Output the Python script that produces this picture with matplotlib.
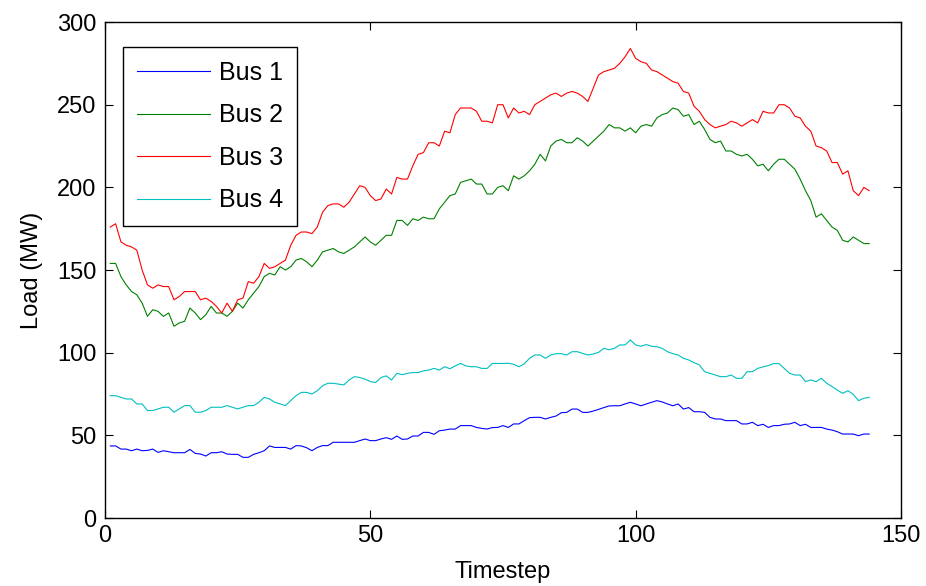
import matplotlib
matplotlib.use('Agg')
from matplotlib import pyplot as plt

# load per timestep
bus1 = [43.6, 43.6, 41.7, 41.7, 40.7, 41.7, 40.7, 40.9, 41.7, 39.7,
        40.7, 40.1, 39.5, 39.5, 39.5, 41.5, 39.1, 38.7, 37.5, 39.5,
        39.5, 40.1, 38.7, 38.5, 38.5, 36.7, 36.7, 38.5, 39.5, 40.7,
        43.6, 42.7, 42.7, 42.7, 41.7, 43.8, 43.6, 42.5, 40.7, 42.7,
        43.8, 43.8, 45.8, 45.8, 45.8, 45.8, 45.8, 46.8, 47.8, 46.8,
        46.8, 47.8, 48.6, 47.6, 49.6, 47.6, 47.8, 49.6, 49.6, 51.8,
        51.8, 50.6, 52.8, 53.2, 53.8, 53.8, 55.9, 55.9, 55.9, 54.8,
        54.2, 53.8, 54.7, 54.8, 55.9, 54.8, 56.9, 56.9, 58.9, 60.7,
        60.9, 60.9, 59.9, 60.9, 61.7, 63.7, 63.9, 65.9, 65.9, 63.9,
        63.9, 64.7, 65.7, 66.8, 67.8, 67.9, 67.9, 69.0, 70.0, 69.0,
        67.9, 69.0, 70.0, 71.0, 70.2, 69.0, 67.9, 69.0, 65.9, 66.8,
        64.3, 64.3, 63.9, 60.9, 59.9, 59.9, 58.9, 58.9, 58.9, 56.9,
        56.9, 57.9, 55.9, 56.7, 54.8, 55.9, 55.9, 56.7, 56.9, 57.9,
        55.9, 56.7, 54.8, 54.8, 54.8, 53.8, 53.2, 52.2, 50.8, 50.8,
        50.8, 49.8, 50.8, 50.8]

bus2 = [154, 154, 146, 141, 137, 135, 130, 122, 126, 125,
        122, 124, 116, 118, 119, 127, 124, 120, 123, 128,
        124, 124, 122, 125, 130, 127, 132, 136, 140, 146,
        148, 147, 152, 150, 152, 156, 157, 155, 152, 156,
        161, 162, 163, 161, 160, 162, 164, 167, 170, 167,
        165, 168, 171, 171, 180, 180, 177, 181, 180, 182,
        181, 181, 187, 191, 195, 196, 203, 204, 205, 202,
        202, 196, 196, 200, 201, 198, 207, 205, 207, 210,
        214, 220, 216, 225, 228, 229, 227, 227, 230, 228,
        225, 228, 231, 234, 238, 236, 236, 234, 236, 233,
        237, 238, 237, 242, 244, 245, 248, 247, 243, 244,
        238, 240, 235, 229, 227, 228, 222, 222, 220, 219,
        220, 217, 213, 214, 210, 214, 217, 217, 214, 211,
        205, 198, 192, 182, 184, 180, 176, 174, 168, 167,
        170, 168, 166, 166]

bus3 = [176, 178, 167, 165, 164, 162, 150, 141, 139, 141,
        140, 140, 132, 134, 137, 137, 137, 132, 133, 131,
        128, 124, 130, 125, 132, 133, 143, 142, 146, 154,
        151, 152, 154, 156, 165, 171, 173, 173, 172, 176,
        185, 189, 190, 190, 188, 191, 196, 201, 200, 195,
        192, 193, 199, 196, 206, 205, 205, 213, 220, 221,
        227, 227, 225, 234, 233, 244, 248, 248, 248, 246,
        240, 240, 239, 250, 250, 242, 248, 245, 246, 244,
        250, 252, 254, 256, 257, 255, 257, 258, 257, 255,
        252, 260, 268, 270, 271, 272, 275, 279, 284, 278,
        276, 275, 271, 270, 268, 266, 264, 263, 258, 257,
        249, 246, 241, 238, 236, 237, 238, 240, 239, 237,
        239, 241, 239, 246, 245, 245, 250, 250, 248, 243,
        242, 237, 234, 225, 224, 222, 215, 215, 208, 210,
        198, 195, 200, 198]

bus4 = [74, 74, 73, 72, 72, 69, 69, 65, 65, 66,
        67, 67, 64, 66, 68, 68, 64, 64, 65, 67,
        67, 67, 68, 67, 66, 67, 68, 68, 70, 73,
        72, 70, 69, 68, 71, 74, 76, 76, 75, 77,
        80, 81.5, 81.5, 81, 80.5, 83.5, 85.5, 85, 84, 82.5,
        82, 85, 86, 83.5, 87.5, 86.7, 87.5, 88, 88, 89,
        89.5, 90.5, 89.5, 91.5, 90.3, 92, 93.5, 92, 91.5, 91.5,
        90.5, 90.5, 93.5, 93.5, 93.5, 93.6, 93, 91.5, 93.2, 96.6,
        98.6, 98.6, 96.6, 98.6, 99.4, 99.4, 98.6, 100.6, 100.6, 99.6,
        98.6, 99.2, 100.2, 102.6, 101.8, 102.6, 104.7, 104.7, 107.7, 104.7,
        103.9, 104.9, 103.9, 103.6, 102.6, 100.6, 99.4, 98.6, 96.6, 95.6,
        94, 92.6, 88.5, 87.5, 86.5, 85.5, 85.5, 86.5, 84.5, 84.5,
        88.5, 88.5, 90.5, 91.4, 92.2, 93.4, 93.4, 90.5, 87.5, 86.5,
        86.5, 82.5, 83.5, 82.5, 84.5, 81.5, 79.5, 77.4, 75.4, 77,
        74.8, 71, 72.4, 73]

timestep = list(range(1, len(bus1) + 1))
labels = ['Bus 1', 'Bus 2', 'Bus 3', 'Bus 4']
colors = ['#0000ff', '#008000', '#ff0000', '#00bfbf']

matplotlib.rcParams['font.family'] = ['Liberation Sans', 'DejaVu Sans']
matplotlib.rcParams['font.size'] = 17

fig = plt.figure(figsize=(9.26, 5.86), dpi=100)
ax = fig.add_axes([0.1134, 0.116, 0.8596, 0.8464])

for y, lab, c in zip([bus1, bus2, bus3, bus4], labels, colors):
    ax.plot(timestep, y, color=c, linewidth=0.8, label=lab)

ax.set_xlim(0, 150)
ax.set_ylim(0, 300)
ax.set_xticks([0, 50, 100, 150])
ax.set_yticks([0, 50, 100, 150, 200, 250, 300])
ax.tick_params(direction='in', top=True, right=True, length=6, width=0.8)
ax.tick_params(axis='y', pad=6)
ax.tick_params(axis='x', pad=5)
for s in ax.spines.values():
    s.set_linewidth(1.0)

ax.set_xlabel('Timestep', labelpad=10)
ax.set_ylabel('Load (MW)', labelpad=10)

leg = ax.legend(loc='upper left', bbox_to_anchor=(0.0226, 0.9496), borderaxespad=0,
                fontsize=18, fancybox=False, framealpha=1, edgecolor='black',
                handlelength=2.92, handletextpad=0.36, labelspacing=0.74, borderpad=0.55)
leg.get_frame().set_linewidth(1.0)

plt.savefig('out.png', dpi=100)
